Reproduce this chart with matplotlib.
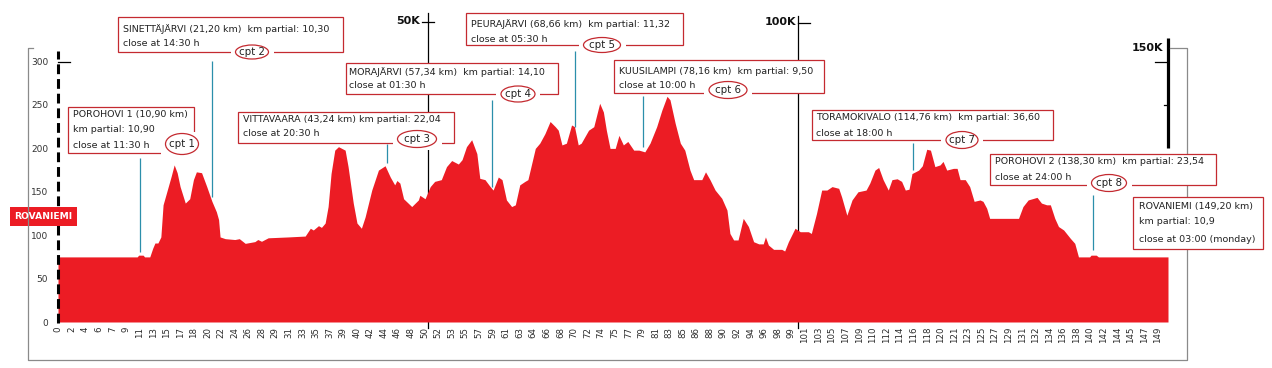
import matplotlib
matplotlib.use("Agg")
import matplotlib.pyplot as plt
from matplotlib.patches import Rectangle, Ellipse
import numpy as np

plt.rcParams['font.family'] = ['DejaVu Sans']

# ---------------- data ----------------
profile_km = [0, 10.7, 10.9, 11.5, 11.7, 12.4, 12.8, 13.1, 13.5, 13.9, 14.2, 14.9, 15.3, 15.7, 16.1,
              16.5, 17.2, 17.8, 18.3, 18.7, 19.4, 20.1, 20.8, 21.4, 21.7, 21.9, 22.6, 23.9, 24.5,
              25.3, 26.6, 27.0, 27.5, 28.4, 31.1, 33.4, 34.1, 34.5, 35.2, 35.6, 36.1, 36.5, 36.9,
              37.4, 37.9, 38.8, 39.2, 39.9, 40.4, 41.0, 41.5, 42.4, 43.3, 44.2, 44.9, 45.5, 45.8,
              46.2, 46.7, 47.8, 48.7, 48.9, 49.6, 50.3, 50.9, 51.8, 52.5, 53.2, 54.1, 54.6, 55.2,
              55.9, 56.6, 57.0, 57.7, 58.4, 58.8, 59.5, 60.0, 60.6, 61.3, 61.8, 62.4, 63.1, 63.5,
              64.5, 65.1, 65.8, 66.5, 67.2, 67.6, 68.1, 68.7, 69.4, 69.8, 70.3, 70.7, 71.7, 72.4,
              73.2, 73.7, 74.1, 74.6, 75.3, 75.8, 76.4, 77.0, 77.8, 78.5, 79.3, 80.0, 80.9, 81.6,
              82.3, 82.7, 83.4, 84.1, 84.7, 85.4, 85.9, 87.0, 87.5, 88.1, 88.8, 89.7, 90.4, 90.8,
              91.3, 91.9, 92.6, 93.3, 94.0, 94.7, 95.3, 95.6, 96.0, 96.7, 97.8, 98.2, 98.7, 99.6,
              100.3, 101.4, 101.8, 102.5, 103.2, 103.9, 104.6, 105.5, 105.9, 106.6, 107.3, 108.1,
              109.2, 109.7, 110.4, 110.9, 111.5, 112.2, 112.7, 113.4, 114.0, 114.5, 115.0, 115.4,
              116.3, 116.8, 117.4, 117.9, 118.5, 119.2, 119.6, 120.1, 121.0, 121.5, 121.9, 122.6,
              123.2, 123.8, 124.6, 125.0, 125.5, 125.9, 129.8, 130.4, 131.1, 132.3, 132.9, 133.6,
              134.1, 134.7, 135.2, 135.9, 136.8, 137.4, 137.9, 139.4, 139.6, 140.3, 140.6, 150.0]
profile_elev = [75, 75, 77, 77, 75, 75, 85, 91, 91, 98, 135, 156, 168, 181, 172,
                156, 137, 142, 164, 173, 172, 156, 139, 127, 118, 98, 96, 95, 96,
                90.6, 92.6, 95, 93, 97, 98, 99, 108, 106, 111, 109, 114, 133, 171,
                198, 202, 198, 179, 137, 114, 108, 121, 152, 175, 180, 167, 158, 163,
                160, 142, 133, 140.6, 146, 142, 156, 162, 164, 179, 186, 182, 187, 202,
                210, 194, 165.5, 164, 156, 152, 167, 164, 140.6, 133, 135, 158, 162, 164,
                200, 206, 217, 231, 225, 221, 204, 206, 227, 225, 204, 206, 221, 225,
                252, 242, 221, 200, 200, 215, 204, 208, 198, 198, 196, 206, 225, 244,
                260, 256, 229, 206, 198, 175, 164, 164, 173, 164, 152, 142.5, 129, 102,
                94.5, 94.5, 119.4, 110, 92.5, 90, 90, 98, 88.7, 83.7, 83.7, 81.8, 92.5, 108,
                104, 104, 102, 125, 152, 152, 156, 154, 144, 123, 140.6, 150,
                152, 160, 175, 178, 164, 152, 164, 165, 162, 152, 153, 171,
                175, 180, 199, 198, 179, 181, 185, 175, 177, 177, 164, 164,
                156, 139, 140.6, 139, 131, 119.4, 119.4, 133, 140.6, 143.6, 137, 135,
                135, 119.4, 110, 106, 96.4, 90.6, 75, 75, 77, 77, 75, 75]

y_ticks = [0, 50, 100, 150, 200, 250, 300]
x_tick_labels = ['0', '2', '4', '6', '7', '9', '11', '13', '15', '17', '18', '20', '22', '24', '26',
                 '28', '29', '31', '33', '35', '37', '39', '40', '42', '44', '46', '48', '50', '52',
                 '53', '55', '57', '59', '61', '63', '64', '66', '68', '70', '72', '74', '75', '77',
                 '79', '81', '83', '85', '86', '88', '90', '92', '94', '96', '98', '99', '101', '103',
                 '105', '107', '109', '110', '112', '114', '116', '118', '120', '121', '123', '125',
                 '127', '129', '131', '132', '134', '136', '138', '140', '142', '144', '145', '147', '149']
x_tick_step = 1.835

km_marks = [50, 100, 150]
km_mark_labels = ['50K', '100K', '150K']

cpt_names = ['cpt 1', 'cpt 2', 'cpt 3', 'cpt 4', 'cpt 5', 'cpt 6', 'cpt 7', 'cpt 8']
cpt_km_drawn = [11.1, 20.8, 44.5, 58.6, 69.9, 79.05, 115.5, 139.9]
cpt_leader_bottom = [80.6, 144, 183, 155.5, 224.7, 201.6, 175, 83]
cpt_leader_top = [189, 300.7, 205, 255.8, 312, 260, 206, 146]

box_texts = [
    ["POROHOVI 1 (10,90 km)", "km partial: 10,90", "close at 11:30 h"],
    ["SINETTÄJÄRVI (21,20 km)  km partial: 10,30", "close at 14:30 h"],
    ["VITTAVAARA (43,24 km) km partial: 22,04", "close at 20:30 h"],
    ["MORAJÄRVI (57,34 km)  km partial: 14,10", "close at 01:30 h"],
    ["PEURAJÄRVI (68,66 km)  km partial: 11,32", "close at 05:30 h"],
    ["KUUSILAMPI (78,16 km)  km partial: 9,50", "close at 10:00 h"],
    ["TORAMOKIVALO (114,76 km)  km partial: 36,60", "close at 18:00 h"],
    ["POROHOVI 2 (138,30 km)  km partial: 23,54", "close at 24:00 h"],
    ["ROVANIEMI (149,20 km)", "km partial: 10,9", "close at 03:00 (monday)"],
]
start_label = "ROVANIEMI"

# ---------------- layout (pixels) ----------------
W, H = 1272, 368
RED = '#ec1c24'
BOX_EDGE = '#c42a30'
LEADER = '#2b8fab'
TXT = '#222222'
FS = 6.8

# box rectangles: x0, y0, x1, y1 ; text left ; line y centres
box_rects = [(68, 107, 194, 153), (118, 17, 343, 52), (238, 112, 454, 143), (346, 63, 558, 94),
             (466, 13, 683, 45), (614, 60, 824, 93), (812, 110, 1053, 140), (990, 154, 1216, 185),
             (1133, 197, 1263, 249)]
box_text_x = [73, 123, 243, 349, 471, 619, 816, 995, 1139]
box_line_y = [[114, 130, 146], [29, 43], [120, 134], [72, 86], [24, 39], [71, 85], [118, 133],
              [162, 177], [206, 222, 239]]
ell = [(182, 144, 33, 21), (252, 52, 33, 14), (417, 139, 39, 17), (518, 94, 34, 16),
       (602, 45, 37, 15), (728, 90, 38, 17), (962, 140, 32, 17), (1109, 183, 35, 17)]

fig = plt.figure(figsize=(W / 100, H / 100), dpi=100)
fig.patch.set_facecolor('white')

PX_PER_M = 0.868
ax = fig.add_axes([58 / W, 46 / H, 1110 / W, 320 * PX_PER_M / H])
ax.set_xlim(0, 150)
ax.set_ylim(0, 320)
for s in ax.spines.values():
    s.set_visible(False)
ax.patch.set_alpha(0)

# km marker lines (behind profile)
ax.plot([50, 50], [-7, 356], color='black', lw=0.9, zorder=1, clip_on=False)
ax.plot([49.2, 50.8], [346, 346], color='black', lw=0.9, zorder=1, clip_on=False)
ax.plot([100, 100], [-7, 353], color='black', lw=0.9, zorder=1, clip_on=False)
ax.plot([100, 101.6], [344.5, 344.5], color='black', lw=0.9, zorder=1, clip_on=False)
ax.plot([150, 150], [200, 327], color='black', lw=2.3, zorder=1, clip_on=False, solid_capstyle='butt')
ax.plot([148.3, 150], [299.5, 299.5], color='black', lw=0.9, zorder=1, clip_on=False)
ax.plot([149.4, 150], [250, 250], color='black', lw=0.9, zorder=1, clip_on=False)

# profile
ax.fill_between(profile_km, 0, profile_elev, color=RED, lw=0, zorder=2, clip_on=False)

# leader lines
ax.vlines(cpt_km_drawn, cpt_leader_bottom, cpt_leader_top, color=LEADER, lw=0.9, zorder=3, clip_on=False)

# dashed y axis
ax.plot([0, 0], [-1, 312], color='black', lw=2.2, ls=(0, (3.2, 1.6)), zorder=4, clip_on=False,
        solid_capstyle='butt', dash_capstyle='butt')
ax.plot([0, 1.6], [300, 300], color='black', lw=0.9, zorder=4, clip_on=False)

ax.set_yticks(y_ticks)
ax.set_yticklabels([str(v) for v in y_ticks], fontsize=6.5, color='#333333')
ax.tick_params(axis='y', length=0, pad=7.0)
ax.set_xticks(np.arange(len(x_tick_labels)) * x_tick_step)
ax.set_xticklabels(x_tick_labels, rotation=90, fontsize=6.2, color='#2a2a2a', va='top')
ax.tick_params(axis='x', length=0, pad=3.5)

# overlay in pixel coordinates
ov = fig.add_axes([0, 0, 1, 1])
ov.set_xlim(0, W)
ov.set_ylim(H, 0)
ov.axis('off')
ov.set_zorder(5)
ov.patch.set_alpha(0)

# frame
ov.plot([33, 28, 28, 1187, 1187, 1170], [48, 48, 360, 360, 48, 48], color='#8a8a8a', lw=0.9)

# km mark labels
ov.text(420, 21, km_mark_labels[0], ha='right', va='center', fontsize=8, fontweight='bold', color='#111111')
ov.text(796, 22, km_mark_labels[1], ha='right', va='center', fontsize=8, fontweight='bold', color='#111111')
ov.text(1163, 48, km_mark_labels[2], ha='right', va='center', fontsize=8, fontweight='bold', color='#111111')

# start label
ov.add_patch(Rectangle((10, 207), 67, 19, facecolor=RED, edgecolor='none'))
ov.text(43.5, 216.5, start_label, ha='center', va='center', fontsize=6.6, fontweight='bold', color='white')

# boxes
for i, (x0, y0, x1, y1) in enumerate(box_rects):
    ov.add_patch(Rectangle((x0, y0), x1 - x0, y1 - y0, facecolor='white', edgecolor=BOX_EDGE, lw=0.9, zorder=2))
    for line, yy in zip(box_texts[i], box_line_y[i]):
        ov.text(box_text_x[i], yy, line, ha='left', va='center', fontsize=FS, color=TXT, zorder=5)
    if i < len(cpt_names):
        cx, cy, ew, eh = ell[i]
        ov.add_patch(Rectangle((cx - ew / 2 - 5, cy - eh / 2 - 2), ew + 10, eh + 4,
                               facecolor='white', edgecolor='none', zorder=3))
        ov.add_patch(Ellipse((cx, cy), ew, eh, facecolor='white', edgecolor=BOX_EDGE, lw=0.9, zorder=4))
        ov.text(cx, cy, cpt_names[i], ha='center', va='center', fontsize=FS + 0.6, color=TXT, zorder=5)

fig.savefig('out.png', dpi=100, facecolor='white')
